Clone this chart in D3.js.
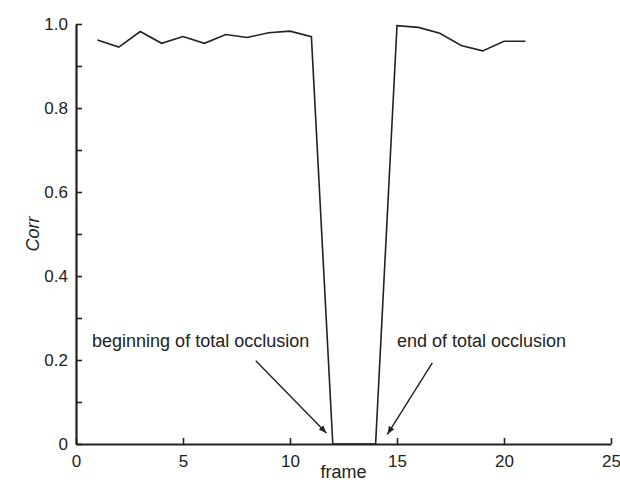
<!DOCTYPE html>
<html lang="en">
<head>
<meta charset="utf-8">
<title>Corr vs frame</title>
<script src="https://d3js.org/d3.v7.min.js"></script>
<style>
  body { margin: 0; background: #fff; }
  text { font-family: "Liberation Sans", Arial, sans-serif; fill: #222; }
</style>
</head>
<body>
<script>
// frame numbers and correlation values
var frames = [1, 2, 3, 4, 5, 6, 7, 8, 9, 10, 11, 12, 13, 14, 15, 16, 17, 18, 19, 20, 21];
var corr = [0.962, 0.945, 0.982, 0.954, 0.970, 0.954, 0.975, 0.968, 0.979, 0.983, 0.970,
            0, 0, 0,
            0.996, 0.992, 0.978, 0.949, 0.936, 0.959, 0.959];
var xTicks = [0, 5, 10, 15, 20, 25];
var yTicks = [0, 0.2, 0.4, 0.6, 0.8, 1.0];
var yMinor = [0.1, 0.3, 0.5, 0.7, 0.9];

// annotations: label, text anchor point (in data units), arrow from/to
var notes = [
  { label: "beginning of total occlusion", tx: 0.75, ty: 0.231, x1: 8.4, y1: 0.198, x2: 11.7, y2: 0.026 },
  { label: "end of total occlusion", tx: 15.0, ty: 0.231, x1: 16.65, y1: 0.193, x2: 14.55, y2: 0.023 }
];

var w = 620, h = 489;
var margin = { left: 76, right: 9, top: 24, bottom: 45 };

var svg = d3.select("body").append("svg")
  .attr("width", w)
  .attr("height", h);

var x = d3.scaleLinear().domain([0, 25]).range([margin.left, w - margin.right]);
var y = d3.scaleLinear().domain([0, 1]).range([h - margin.bottom, margin.top]);

var ink = "#222";

// x axis, ticks pointing inward
svg.append("g")
  .attr("transform", "translate(0," + y(0) + ")")
  .call(d3.axisBottom(x).tickValues(xTicks).tickSize(-6).tickPadding(11).tickSizeOuter(0)
    .tickFormat(d3.format("d")));

// y axis
svg.append("g")
  .attr("transform", "translate(" + x(0) + ",0)")
  .call(d3.axisLeft(y).tickValues(yTicks).tickSize(-6).tickPadding(8).tickSizeOuter(0)
    .tickFormat(function(d) { return d === 0 ? "0" : d3.format(".1f")(d); }));

svg.append("g")
  .attr("transform", "translate(" + x(0) + ",0)")
  .call(d3.axisLeft(y).tickValues(yMinor).tickSize(-6).tickSizeOuter(0).tickFormat(""))
  .select(".domain").remove();

svg.selectAll(".domain").attr("stroke", ink).attr("stroke-width", 2.2);
svg.selectAll(".tick line").attr("stroke", ink).attr("stroke-width", 1.6);
svg.selectAll(".tick text")
  .attr("fill", ink)
  .style("font-size", "17px")
  .style("font-family", "'Liberation Sans', Arial, sans-serif");

// axis titles
svg.append("text")
  .attr("x", (x(0) + x(25)) / 2)
  .attr("y", h - 11)
  .attr("text-anchor", "middle")
  .style("font-size", "18px")
  .text("frame");

svg.append("text")
  .attr("transform", "translate(39," + y(0.5) + ") rotate(-90)")
  .attr("text-anchor", "middle")
  .style("font-size", "18px")
  .style("font-style", "italic")
  .text("Corr");

// data line
var line = d3.line()
  .x(function(d, i) { return x(frames[i]); })
  .y(function(d) { return y(d); });

svg.append("path")
  .datum(corr)
  .attr("d", line)
  .attr("fill", "none")
  .attr("stroke", ink)
  .attr("stroke-width", 1.6)
  .attr("stroke-linejoin", "miter");

// arrows
svg.append("defs").append("marker")
  .attr("id", "arrow")
  .attr("viewBox", "0 0 10 10")
  .attr("refX", 10).attr("refY", 5)
  .attr("markerWidth", 8).attr("markerHeight", 8)
  .attr("markerUnits", "userSpaceOnUse")
  .attr("orient", "auto")
  .append("path")
  .attr("d", "M0,1 L10,5 L0,9 Z")
  .attr("fill", ink);

svg.selectAll(".note-line")
  .data(notes)
  .enter().append("line")
  .attr("x1", function(d) { return x(d.x1); })
  .attr("y1", function(d) { return y(d.y1); })
  .attr("x2", function(d) { return x(d.x2); })
  .attr("y2", function(d) { return y(d.y2); })
  .attr("stroke", ink)
  .attr("stroke-width", 1.4)
  .attr("marker-end", "url(#arrow)");

svg.selectAll(".note-text")
  .data(notes)
  .enter().append("text")
  .attr("x", function(d) { return x(d.tx); })
  .attr("y", function(d) { return y(d.ty); })
  .style("font-size", "18px")
  .text(function(d) { return d.label; });
</script>
</body>
</html>
